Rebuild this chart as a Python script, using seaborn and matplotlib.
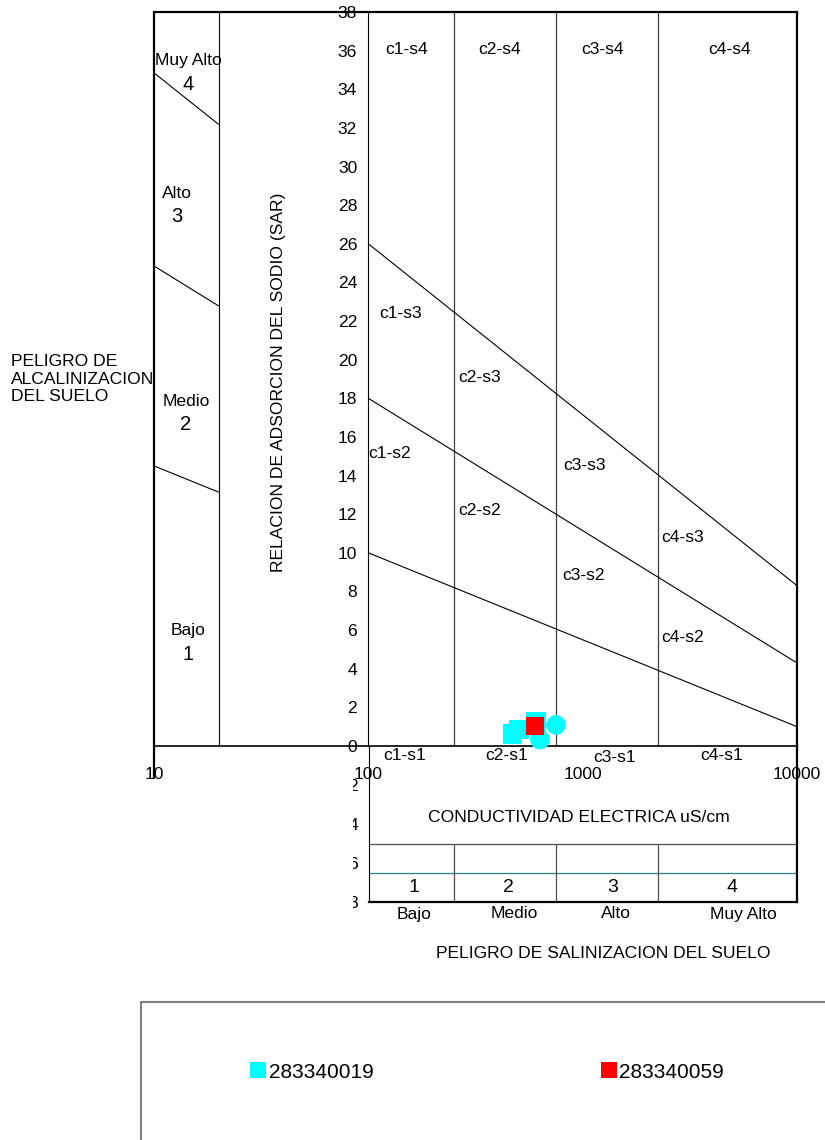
import numpy as np
import pandas as pd
import seaborn as sns
import matplotlib.pyplot as plt
from matplotlib.patches import Rectangle
from matplotlib.lines import Line2D
from matplotlib.ticker import NullLocator

# --- data -------------------------------------------------------------
stations = ["283340019", "283340059"]
station_colors = ["#00FFFF", "#FF0000"]

# samples of station 283340019 (EC in uS/cm, SAR) and their marker shape
ce_283340019 = [605, 505, 470, 751, 632]
sar_283340019 = [1.24, 0.86, 0.62, 1.09, 0.33]
shape_283340019 = ["s", "s", "s", "o", "o"]

# samples of station 283340059
ce_283340059 = [600]
sar_283340059 = [1.04]

# salinity class limits (EC) and sodium class boundaries (SAR at EC=100 and EC=10000)
ec_class_limits = [250, 750, 2250]
sar_at_100 = [10, 18, 26]
sar_at_10000 = [1.0, 4.3, 8.3]

x_ticks = [10, 100, 1000, 10000]
x_tick_labels = ["10", "100", "1000", "10000"]
y_ticks = list(range(0, 39, 2))

salinity_names = ["Bajo", "Medio", "Alto", "Muy Alto"]
salinity_numbers = ["1", "2", "3", "4"]
sodium_names = ["Bajo", "Medio", "Alto", "Muy Alto"]
sodium_numbers = ["1", "2", "3", "4"]

# --- style --------------------------------------------------------------
sns.set_style("white")
plt.rcParams["font.family"] = ["Liberation Sans", "DejaVu Sans"]
plt.rcParams["axes.edgecolor"] = "black"
plt.rcParams["xtick.color"] = "black"
plt.rcParams["ytick.color"] = "black"
plt.rcParams["text.color"] = "black"
plt.rcParams["axes.labelcolor"] = "black"

FS = 12.6

W, H = 825, 1140
fig = plt.figure(figsize=(W / 100, H / 100), dpi=100)


def box(l, t, r, b):
    return [l / W, 1 - b / H, (r - l) / W, (b - t) / H]


def ftext(px, py, s, **kw):
    kw.setdefault("ha", "center")
    kw.setdefault("va", "center")
    kw.setdefault("fontsize", FS)
    return fig.text(px / W, 1 - py / H, s, **kw)


ax = fig.add_axes(box(154, 12, 797, 746))
ax2 = fig.add_axes(box(369, 746, 797, 902))

# --- main diagram -------------------------------------------------------
ax.set_xscale("log")
ax.set_xlim(10, 10000)
ax.set_ylim(0, 38)
ax.set_xticks(x_ticks)
ax.set_xticklabels(x_tick_labels)
ax.xaxis.set_minor_locator(NullLocator())
ax.set_yticks(y_ticks)
ax.spines["left"].set_position(("data", 100))
ax.spines["left"].set_linewidth(0.8)
ax.spines["top"].set_linewidth(1.6)
ax.spines["right"].set_linewidth(1.6)
ax.spines["bottom"].set_linewidth(1.2)
ax.tick_params(axis="y", direction="out", length=5, width=0.8, labelsize=FS, pad=3)
ax.tick_params(axis="x", direction="out", length=7, width=0.8, labelsize=FS, pad=8)

# outer left border of the sodium-hazard panel
ax.plot([10, 10], [-1.66, 38], color="black", lw=1.6, clip_on=False, zorder=3)
# panel separator
ax.plot([20, 20], [0, 38], color="black", lw=0.8)
# salinity class limits
for ec in ec_class_limits:
    ax.plot([ec, ec], [0, 38], color="#404040", lw=0.9)


def boundary(a, b, ec):
    return a + (b - a) / 2 * (np.log10(ec) - 2)


for a, b in zip(sar_at_100, sar_at_10000):
    for e0, e1 in [(10, 20), (100, 10000)]:
        ax.plot([e0, e1], [boundary(a, b, e0), boundary(a, b, e1)],
                color="black", lw=0.8)

# samples
df1 = pd.DataFrame({"ce": ce_283340019, "sar": sar_283340019,
                    "forma": shape_283340019})
df2 = pd.DataFrame({"ce": ce_283340059, "sar": sar_283340059})
sns.scatterplot(data=df1, x="ce", y="sar", style="forma",
                markers={"s": "s", "o": "o"}, color=station_colors[0],
                s=200, linewidth=0, legend=False, ax=ax, clip_on=False, zorder=4)
sns.scatterplot(data=df2, x="ce", y="sar", marker="s", color=station_colors[1],
                s=175, linewidth=0, legend=False, ax=ax, clip_on=False, zorder=5)
ax.set_xlabel("")
ax.set_ylabel("")

# --- lower salinity-hazard panel ----------------------------------------
ax2.set_xscale("log")
ax2.set_xlim(100, 10000)
ax2.set_ylim(8, 0)
ax2.patch.set_visible(False)
ax2.set_xticks([])
ax2.xaxis.set_minor_locator(NullLocator())
ax2.set_yticks([2, 4, 6, 8])
ax2.tick_params(axis="y", direction="out", length=5, width=0.8, labelsize=FS, pad=3)
ax2.spines["top"].set_visible(False)
ax2.spines["left"].set_linewidth(0.8)
ax2.spines["right"].set_linewidth(1.6)
ax2.spines["bottom"].set_linewidth(1.6)
ax2.plot([100, 10000], [5, 5], color="#505050", lw=0.9)
ax2.plot([100, 10000], [6.5, 6.5], color="#2E7F7F", lw=0.9)
for ec in ec_class_limits:
    ax2.plot([ec, ec], [5, 8], color="#505050", lw=0.9)

# hide the left part of the lower panel's tick labels
fig.add_artist(Rectangle((290 / W, 1 - 915 / H), 63 / W, 137 / H,
                         transform=fig.transFigure, fc="white", ec="none",
                         zorder=10))

# --- texts ----------------------------------------------------------------
region_labels = {
    "c1-s4": (407, 49), "c2-s4": (500, 49), "c3-s4": (603, 49), "c4-s4": (730, 49),
    "c1-s3": (401, 313), "c2-s3": (480, 378), "c3-s3": (584, 465), "c4-s3": (683, 538),
    "c1-s2": (390, 454), "c2-s2": (480, 510), "c3-s2": (584, 575), "c4-s2": (683, 637),
    "c1-s1": (405, 756), "c2-s1": (507, 756), "c3-s1": (615, 758), "c4-s1": (722, 756),
}
for s, (px, py) in region_labels.items():
    ftext(px, py, s)

sodium_pos = [(188, 630, 654), (186, 401, 424), (177, 193, 217), (188, 60, 84)]
for name, num, (px, py1, py2) in zip(sodium_names, sodium_numbers, sodium_pos):
    ftext(px, py1, name)
    ftext(px, py2, num, fontsize=14.5)

ftext(278, 382, "RELACION DE ADSORCION DEL SODIO (SAR)", rotation=90)
ftext(11, 379, "PELIGRO DE\nALCALINIZACION\nDEL SUELO", ha="left",
      linespacing=1.2)

ftext(579, 818, "CONDUCTIVIDAD ELECTRICA uS/cm")
sal_x_num = [414, 508, 613, 732]
sal_x_name = [414, 514, 616, 743]
for num, name, xn, xm in zip(salinity_numbers, salinity_names, sal_x_num, sal_x_name):
    ftext(xn, 887, num, fontsize=14)
    ftext(xm, 914, name)
ftext(603, 953, "PELIGRO DE SALINIZACION DEL SUELO")

# --- legend -----------------------------------------------------------------
fig.add_artist(Rectangle((141 / W, -0.05), 1.0, (1140 - 1002) / H + 0.05,
                         transform=fig.transFigure, fill=False,
                         ec="#7F7F7F", lw=1.5, zorder=1))
handles = [Line2D([], [], ls="", marker="s", ms=11, mew=0, color=c)
           for c in station_colors]
fig.legend(handles, stations, loc="center left",
           bbox_to_anchor=(252 / W, 1 - 1072 / H), ncol=2, frameon=False,
           fontsize=15, handlelength=0.6, handletextpad=0.2,
           columnspacing=11.0, borderpad=0, borderaxespad=0)

fig.savefig("out.png", dpi=100)
